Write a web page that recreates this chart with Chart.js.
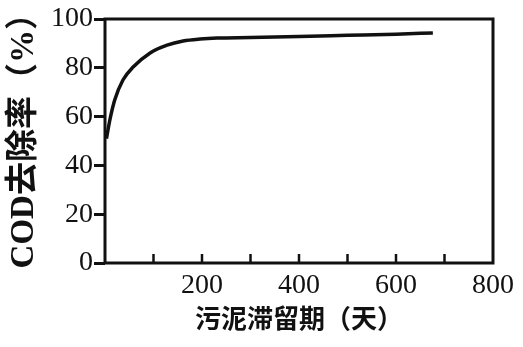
<!DOCTYPE html>
<html>
<head>
<meta charset="utf-8">
<script src="https://cdn.jsdelivr.net/npm/chart.js@4/dist/chart.umd.min.js"></script>
<style>
  html, body { margin: 0; padding: 0; background: #fff; }
  #wrap { width: 523px; height: 347px; }
</style>
</head>
<body>
<div id="wrap"><canvas id="codChart" width="523" height="347"></canvas></div>
<script>
// Sludge retention time (days) vs COD removal (%)
const days = [3, 10, 20, 37, 58, 93, 128, 161, 196, 231, 300, 400, 500, 600, 676];
const removal = [51, 58.6, 66.8, 75, 80.3, 86.1, 89.3, 91, 91.8, 92.2, 92.4, 92.8, 93.3, 93.8, 94.3];
const xTicks = [0, 100, 200, 300, 400, 500, 600, 700, 800];
const xLabels = ['', '', '200', '', '400', '', '600', '', '800'];
const yTicks = [0, 20, 40, 60, 80, 100];

const ink = '#111';
const numFont = { family: '"Liberation Serif", "DejaVu Serif", serif', size: 28 };
const xTitleFont = { family: '"Liberation Serif", "Noto Sans CJK SC", serif', size: 26, weight: 'bold' };
const yTitleFont = { family: '"Liberation Serif", "Noto Sans CJK SC", serif', size: 33, weight: 'bold' };

// frame around the plot and inward x ticks
const framePlugin = {
  id: 'frame',
  afterDraw(chart) {
    const { ctx, chartArea: a, scales } = chart;
    ctx.save();
    ctx.strokeStyle = ink;
    ctx.lineWidth = 3;
    ctx.strokeRect(a.left, a.top, a.right - a.left, a.bottom - a.top);
    ctx.lineWidth = 2.5;
    xTicks.forEach(v => {
      if (v === 0 || v === 800) return;
      const x = scales.x.getPixelForValue(v);
      ctx.beginPath();
      ctx.moveTo(x, a.bottom);
      ctx.lineTo(x, a.bottom - 9);
      ctx.stroke();
    });
    ctx.restore();
  }
};

new Chart(document.getElementById('codChart'), {
  type: 'scatter',
  data: {
    datasets: [{
      data: days.map((d, i) => ({ x: d, y: removal[i] })),
      showLine: true,
      borderColor: ink,
      borderWidth: 3.5,
      pointRadius: 0,
      cubicInterpolationMode: 'monotone'
    }]
  },
  options: {
    responsive: false,
    animation: false,
    layout: { padding: { top: 19, right: 30, left: 0, bottom: 0 } },
    plugins: { legend: { display: false }, tooltip: { enabled: false } },
    scales: {
      x: {
        type: 'linear',
        min: 0,
        max: 800,
        afterBuildTicks: s => { s.ticks = xTicks.map(v => ({ value: v })); },
        afterFit: s => { s.height = 84; },
        grid: { display: false, drawTicks: false },
        border: { display: false },
        ticks: {
          color: ink,
          font: numFont,
          padding: 6,
          maxRotation: 0,
          autoSkip: false,
          callback: (v, i) => xLabels[i]
        },
        title: {
          display: true,
          text: '污泥滞留期（天）',
          color: ink,
          font: xTitleFont,
          padding: { top: 2, bottom: 10 }
        }
      },
      y: {
        type: 'linear',
        min: 0,
        max: 100,
        afterBuildTicks: s => { s.ticks = yTicks.map(v => ({ value: v })); },
        afterFit: s => { s.width = 105; },
        grid: { drawOnChartArea: false, drawTicks: true, tickLength: 11, tickWidth: 3, tickColor: ink },
        border: { display: false },
        ticks: { color: ink, font: numFont, padding: 1 },
        title: {
          display: true,
          text: '  COD去除率（%）',
          color: ink,
          font: yTitleFont,
          padding: { top: 5, bottom: 0 }
        }
      }
    }
  },
  plugins: [framePlugin]
});
</script>
</body>
</html>
